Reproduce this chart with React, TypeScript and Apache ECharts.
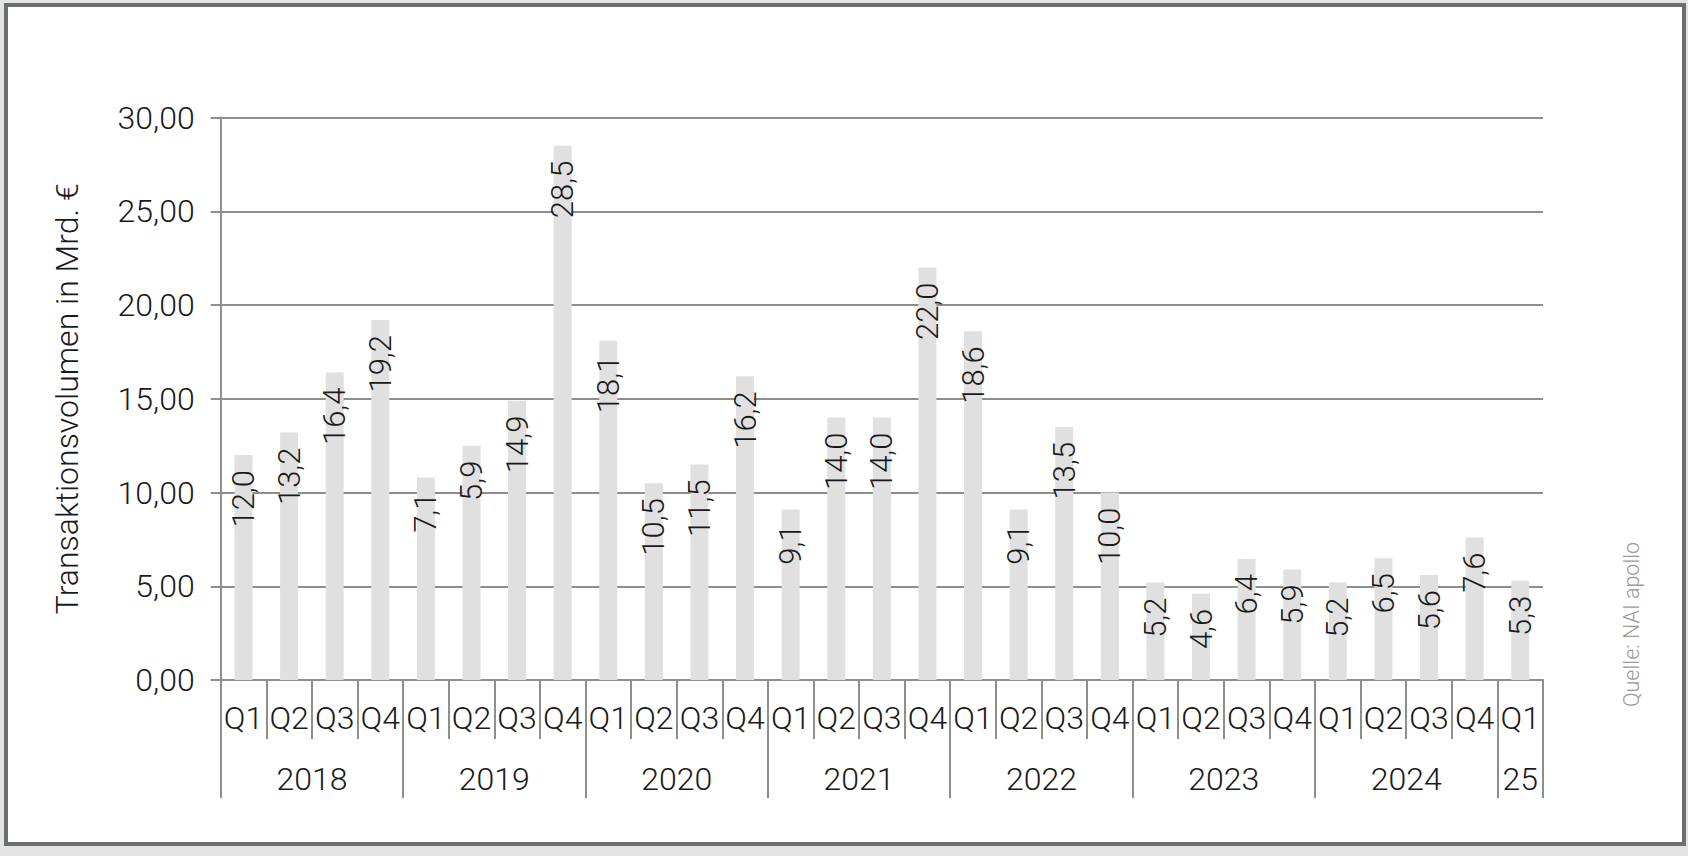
import React, { useEffect, useRef } from "react";
import * as echarts from "echarts";

const quarters = [
  "Q1", "Q2", "Q3", "Q4",
  "Q1", "Q2", "Q3", "Q4",
  "Q1", "Q2", "Q3", "Q4",
  "Q1", "Q2", "Q3", "Q4",
  "Q1", "Q2", "Q3", "Q4",
  "Q1", "Q2", "Q3", "Q4",
  "Q1", "Q2", "Q3", "Q4",
  "Q1",
];
const years = ["2018", "2019", "2020", "2021", "2022", "2023", "2024", "25"];
const quartersPerYear = [4, 4, 4, 4, 4, 4, 4, 1];
// bar heights as drawn
const barValues = [
  12.0, 13.2, 16.4, 19.2,
  10.8, 12.5, 14.9, 28.5,
  18.1, 10.5, 11.5, 16.2,
  9.1, 14.0, 14.0, 22.0,
  18.6, 9.1, 13.5, 10.0,
  5.2, 4.6, 6.45, 5.9,
  5.2, 6.5, 5.6, 7.6,
  5.3,
];
// printed data labels
const barLabels = [
  "12,0", "13,2", "16,4", "19,2",
  "7,1", "5,9", "14,9", "28,5",
  "18,1", "10,5", "11,5", "16,2",
  "9,1", "14,0", "14,0", "22,0",
  "18,6", "9,1", "13,5", "10,0",
  "5,2", "4,6", "6,4", "5,9",
  "5,2", "6,5", "5,6", "7,6",
  "5,3",
];
const yMin = 0;
const yMax = 30;
const yStep = 5;
const yAxisTitle = "Transaktionsvolumen in Mrd. €";
const sourceText = "Quelle: NAI apollo";

const FONT = "Roboto";

export default function App() {
  const ref = useRef<HTMLDivElement>(null);

  useEffect(() => {
    if (!ref.current) return;
    const chart = echarts.init(ref.current, null, { renderer: "svg" });

    // year axis: half-quarter slots, labels at year centres, ticks at boundaries
    const totalQ = quartersPerYear.reduce((a, b) => a + b, 0);
    const yearSlots: string[] = new Array(totalQ * 2 + 1).fill("");
    const boundaries = new Set<number>();
    let s = 0;
    years.forEach((y, i) => {
      const n = quartersPerYear[i];
      boundaries.add(2 * s);
      yearSlots[2 * s + n] = y;
      s += n;
    });
    boundaries.add(2 * s);

    const gray = "#8e8e8e";

    chart.setOption({
      animation: false,
      grid: { left: 220.7, right: 145, top: 117.5, bottom: 176, containLabel: false },
      xAxis: [
        {
          type: "category",
          data: quarters,
          position: "bottom",
          axisLine: { show: true, lineStyle: { color: gray, width: 2 } },
          axisTick: { show: true, interval: 0, length: 59, lineStyle: { color: gray, width: 2 } },
          axisLabel: {
            interval: 0,
            margin: 22,
            color: "#1a1a1a",
            fontFamily: FONT,
            fontWeight: 300,
            fontSize: 32,
          },
          splitLine: { show: false },
        },
        {
          type: "category",
          data: yearSlots,
          boundaryGap: false,
          position: "bottom",
          offset: 0,
          axisLine: { show: false },
          axisTick: {
            show: true,
            length: 118,
            interval: (i: number) => boundaries.has(i),
            lineStyle: { color: gray, width: 2 },
          },
          axisLabel: {
            interval: (_i: number, v: string) => v !== "",
            margin: 83,
            color: "#1a1a1a",
            fontFamily: FONT,
            fontWeight: 300,
            fontSize: 32,
          },
          splitLine: { show: false },
        },
      ],
      yAxis: {
        type: "value",
        min: yMin,
        max: yMax,
        interval: yStep,
        name: yAxisTitle,
        nameLocation: "middle",
        nameGap: 138,
        nameRotate: 90,
        nameTextStyle: {
          color: "#1a1a1a",
          fontFamily: FONT,
          fontWeight: 300,
          fontSize: 32,
        },
        axisLine: { show: true, lineStyle: { color: gray, width: 2 } },
        axisTick: { show: true, length: 10, lineStyle: { color: gray, width: 2 } },
        axisLabel: {
          margin: 26,
          color: "#1a1a1a",
          fontFamily: FONT,
          fontWeight: 300,
          fontSize: 32,
          formatter: (v: number) => v.toFixed(2).replace(".", ","),
        },
        splitLine: { show: true, lineStyle: { color: gray, width: 2 } },
      },
      series: [
        {
          type: "bar",
          data: barValues,
          barWidth: 18,
          itemStyle: { color: "#e0e0e0" },
          label: {
            show: true,
            position: "insideTop",
            distance: 15,
            rotate: 90,
            align: "right",
            verticalAlign: "middle",
            color: "#1a1a1a",
            fontFamily: FONT,
            fontWeight: 300,
            fontSize: 31,
            formatter: (p: any) => barLabels[p.dataIndex],
          },
        },
      ],
      graphic: [
        {
          type: "text",
          x: 1631,
          y: 707,
          rotation: Math.PI / 2,
          style: {
            text: sourceText,
            fill: "#9a9a9a",
            fontFamily: FONT,
            fontWeight: 300,
            fontSize: 21.5,
            align: "left",
            verticalAlign: "middle",
          },
        },
      ],
    });

    return () => chart.dispose();
  }, []);

  return (
    <div style={{ position: "fixed", left: 0, top: 0, width: 1688, height: 856, background: "#e4e4e4" }}>
      <div
        style={{
          position: "absolute",
          left: 4,
          top: 3,
          width: 1682,
          height: 843,
          boxSizing: "border-box",
          border: "4px solid #6c6f72",
          background: "#ffffff",
        }}
      />
      <div ref={ref} style={{ position: "absolute", left: 0, top: 0, width: 1688, height: 856 }} />
    </div>
  );
}
